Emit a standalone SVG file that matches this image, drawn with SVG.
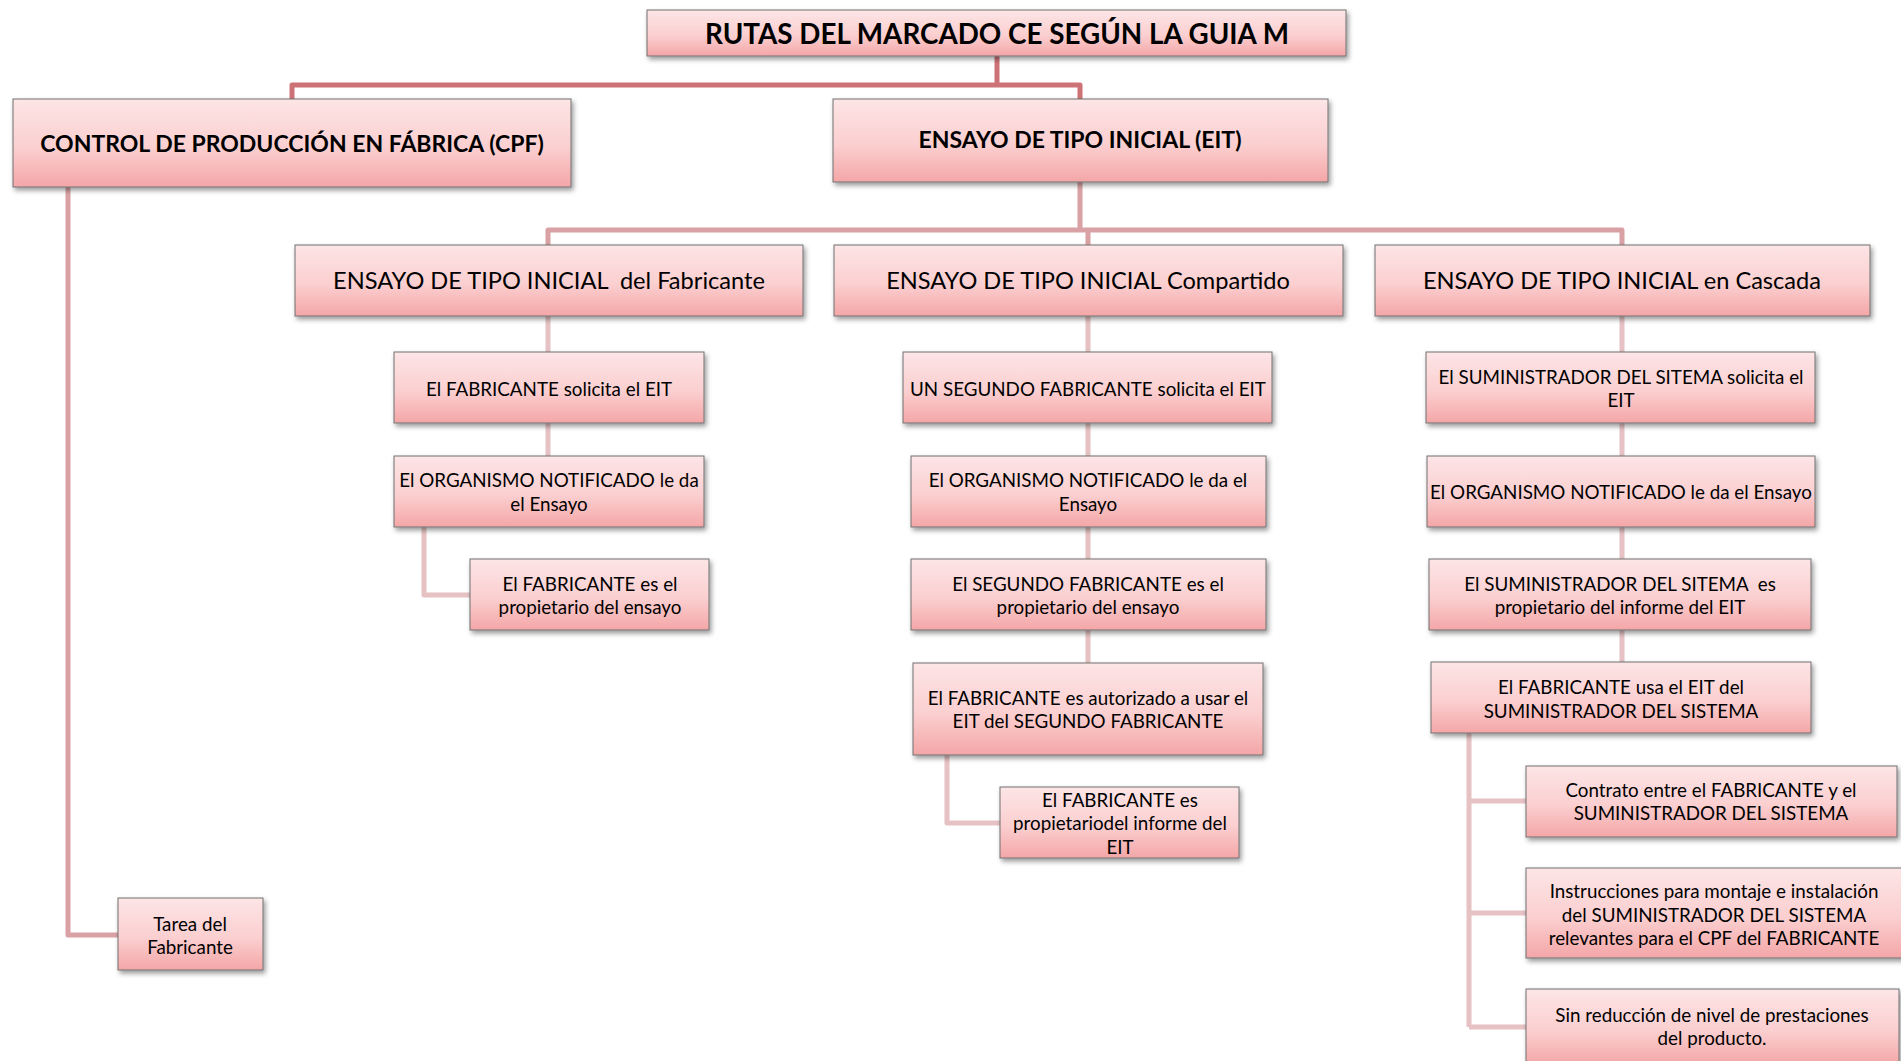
<svg xmlns="http://www.w3.org/2000/svg" width="1901" height="1061" viewBox="0 0 1901 1061">
<defs>
<linearGradient id="g" x1="0" y1="0" x2="0" y2="1">
<stop offset="0" stop-color="#fde5e6"/>
<stop offset="0.55" stop-color="#fbcfd0"/>
<stop offset="1" stop-color="#f4a6a7"/>
</linearGradient>
<filter id="sh" x="-5%" y="-10%" width="112%" height="130%">
<feDropShadow dx="2" dy="3" stdDeviation="2.5" flood-color="#000" flood-opacity="0.4"/>
</filter>
<style>
.box{fill:url(#g);stroke:#707070;stroke-width:1;filter:url(#sh)}
text{font-family:Lato,"Open Sans","Liberation Sans",sans-serif;fill:#000;text-anchor:middle;dominant-baseline:central}
.h1{font-size:27.8px;font-weight:bold}
.h2{font-size:23px;font-weight:bold}
.h3{font-size:23.6px}
.t{font-size:18.8px}
.c1{fill:none;stroke:#cd7377;stroke-width:5;stroke-linejoin:round}
.c2{fill:none;stroke:#d9a1a4;stroke-width:5;stroke-linejoin:round}
.c3{fill:none;stroke:#e6c2c4;stroke-width:5;stroke-linejoin:round}
</style>
</defs>
<rect width="1901" height="1061" fill="#fff"/>
<g id="connectors">
<path class="c1" d="M997,56 V85 M292,99 V85 H1080 V99"/>
<path class="c2" d="M68,187 V935 H118"/>
<path class="c2" d="M1080,182 V230 M548,245 V230 H1622 V245 M1088,230 V245"/>
<path class="c3" d="M548,316 V352 M548,423 V456 M424,527 V595 H470"/>
<path class="c3" d="M1088,316 V352 M1088,423 V456 M1088,527 V559 M1088,630 V663 M947,755 V823 H1000"/>
<path class="c3" d="M1622,316 V352 M1622,423 V456 M1622,527 V559 M1622,630 V662 M1469,733 V1027 M1469,801 H1526 M1469,913 H1526 M1469,1027 H1526"/>
</g>
<g id="title"><rect class="box" x="647" y="10" width="699" height="46"/><text class="h1" x="997" y="33">RUTAS DEL MARCADO CE SEGÚN LA GUIA M</text></g>
<g id="cpf"><rect class="box" x="13" y="99" width="558" height="88"/><text class="h2" x="292" y="143">CONTROL DE PRODUCCIÓN EN FÁBRICA (CPF)</text></g>
<g id="eit"><rect class="box" x="833" y="99" width="495" height="83"/><text class="h2" x="1080" y="139">ENSAYO DE TIPO INICIAL (EIT)</text></g>
<g id="tarea"><rect class="box" x="118" y="898" width="145" height="72"/><text class="t" x="190" y="923">Tarea del</text><text class="t" x="190" y="946">Fabricante</text></g>
<g id="eit-fab"><rect class="box" x="295" y="245" width="508" height="71"/><text class="h3" x="549" y="280" xml:space="preserve">ENSAYO DE TIPO INICIAL  del Fabricante</text></g>
<g id="eit-comp"><rect class="box" x="834" y="245" width="509" height="71"/><text class="h3" x="1088" y="280">ENSAYO DE TIPO INICIAL Compartido</text></g>
<g id="eit-casc"><rect class="box" x="1375" y="245" width="495" height="71"/><text class="h3" x="1622" y="280">ENSAYO DE TIPO INICIAL en Cascada</text></g>
<g id="f1"><rect class="box" x="394" y="352" width="310" height="71"/><text class="t" x="549" y="388">El FABRICANTE solicita el EIT</text></g>
<g id="f2"><rect class="box" x="394" y="456" width="310" height="71"/><text class="t" x="549" y="479">El ORGANISMO NOTIFICADO le da</text><text class="t" x="549" y="503">el Ensayo</text></g>
<g id="f3"><rect class="box" x="470" y="559" width="239" height="71"/><text class="t" x="590" y="583">El FABRICANTE es el</text><text class="t" x="590" y="606">propietario del ensayo</text></g>
<g id="c1"><rect class="box" x="903" y="352" width="369" height="71"/><text class="t" x="1088" y="388">UN SEGUNDO FABRICANTE solicita el EIT</text></g>
<g id="c2"><rect class="box" x="911" y="456" width="355" height="71"/><text class="t" x="1088" y="479">El ORGANISMO NOTIFICADO le da el</text><text class="t" x="1088" y="503">Ensayo</text></g>
<g id="c3"><rect class="box" x="911" y="559" width="355" height="71"/><text class="t" x="1088" y="583">El SEGUNDO FABRICANTE es el</text><text class="t" x="1088" y="606">propietario del ensayo</text></g>
<g id="c4"><rect class="box" x="913" y="663" width="350" height="92"/><text class="t" x="1088" y="697">El FABRICANTE es autorizado a usar el</text><text class="t" x="1088" y="720">EIT del SEGUNDO FABRICANTE</text></g>
<g id="c5"><rect class="box" x="1000" y="787" width="239" height="71"/><text class="t" x="1120" y="799">El FABRICANTE es</text><text class="t" x="1120" y="822">propietariodel informe del</text><text class="t" x="1120" y="846">EIT</text></g>
<g id="s1"><rect class="box" x="1426" y="352" width="389" height="71"/><text class="t" x="1621" y="376">El SUMINISTRADOR DEL SITEMA solicita el</text><text class="t" x="1621" y="399">EIT</text></g>
<g id="s2"><rect class="box" x="1427" y="456" width="388" height="71"/><text class="t" x="1621" y="491">El ORGANISMO NOTIFICADO le da el Ensayo</text></g>
<g id="s3"><rect class="box" x="1429" y="559" width="382" height="71"/><text class="t" x="1620" y="583" xml:space="preserve">El SUMINISTRADOR DEL SITEMA  es</text><text class="t" x="1620" y="606">propietario del informe del EIT</text></g>
<g id="s4"><rect class="box" x="1431" y="662" width="380" height="71"/><text class="t" x="1621" y="686">El FABRICANTE usa el EIT del</text><text class="t" x="1621" y="710">SUMINISTRADOR DEL SISTEMA</text></g>
<g id="s5"><rect class="box" x="1526" y="766" width="371" height="71"/><text class="t" x="1711" y="789">Contrato entre el FABRICANTE y el</text><text class="t" x="1711" y="812">SUMINISTRADOR DEL SISTEMA</text></g>
<g id="s6"><rect class="box" x="1526" y="868" width="377" height="90"/><text class="t" x="1714" y="890">Instrucciones para montaje e instalación</text><text class="t" x="1714" y="914">del SUMINISTRADOR DEL SISTEMA</text><text class="t" x="1714" y="937">relevantes para el CPF del FABRICANTE</text></g>
<g id="s7"><rect class="box" x="1526" y="989" width="373" height="76"/><text class="t" x="1712" y="1014">Sin reducción de nivel de prestaciones</text><text class="t" x="1712" y="1037">del producto.</text></g>
</svg>
